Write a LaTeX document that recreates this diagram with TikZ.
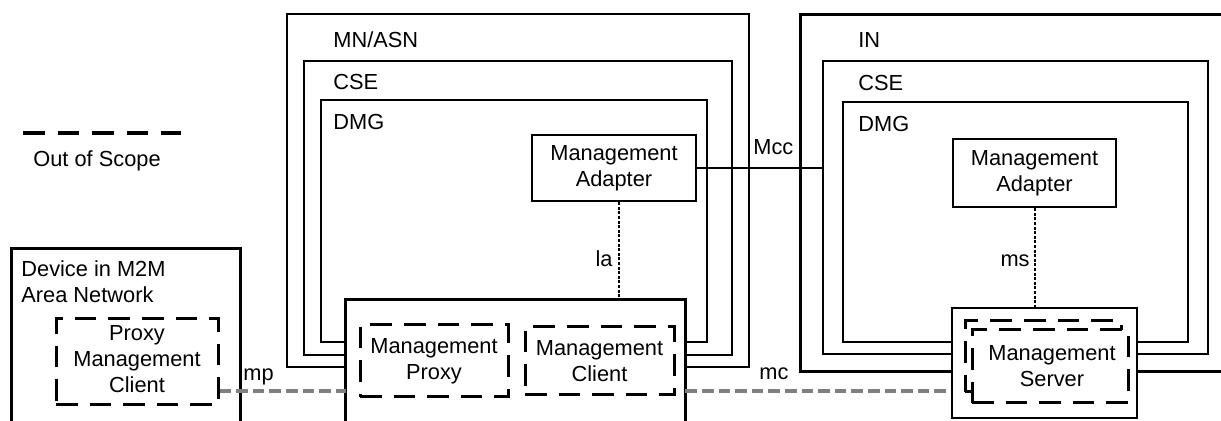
\documentclass[tikz,border=0pt]{standalone}
\usepackage{fontspec}
\setmainfont{Liberation Sans}
\usetikzlibrary{fit}
\begin{document}
\begin{tikzpicture}[x=0.5pt,y=-0.5pt,
  every node/.style={font=\fontsize{10.9}{13}\selectfont},
  box/.style={draw, line width=1.25pt, inner sep=0pt},
  wbox/.style={fill=white, inner sep=0pt},
  edge3/.style={line width=1.25pt},
  oos/.style={draw, line width=1.5pt, dash pattern=on 10.8pt off 6pt, inner sep=0pt},
  ctext/.style={align=center, inner sep=0pt},
  lbl/.style={anchor=base west, inner sep=0pt},
  gline/.style={draw=black!50, line width=1.8pt, dash pattern=on 5.8pt off 2.5pt},
  dline/.style={line width=1pt, dash pattern=on 1.5pt off 0.8pt},
  legline/.style={line width=1.75pt, dash pattern=on 10.85pt off 6.4pt}]
\useasboundingbox (0,0) rectangle (1221,421);

% legend
\draw[legline] (23,133) -- (181,133);
\node[lbl] (oostext) at (33,167) {Out of Scope};

% device in M2M area network
\node[inner sep=0pt, fit={(12,249) (240,421)}] (dev) {};
\draw[edge3] (dev.south west) -- (dev.north west) -- (dev.north east) -- (dev.south east);
\node[lbl, align=left] (devtext) at (21,303) {Device in M2M\\Area Network};
\node[oos, fit={(56,319) (218,405)}] (pmc) {};
\node[ctext] (pmct) at ([yshift=1.5pt]pmc.center) {Proxy\\Management\\Client};

% MN/ASN side
\node[box, fit={(287,14) (749,367)}] (mnasn) {};
\node[box, fit={(304,61) (732,355)}] (cseL) {};
\node[box, fit={(321,100) (707,342)}] (dmgL) {};
\node[lbl] (mnasnt) at (333,48) {MN/ASN};
\node[lbl] (cseLt) at (333,90) {CSE};
\node[lbl] (dmgLt) at (333,130) {DMG};
\node[box, fit={(532,135) (696,201)}] (maL) {};
\node[ctext] (maLt) at (maL.center) {Management\\Adapter};

% IN side
\node[inner sep=0pt, fit={(801,15) (1221,371)}] (inO) {};
\draw[edge3] (inO.north east) -- (inO.north west) -- (inO.south west) -- (inO.south east);
\node[box, fit={(823,61) (1208,354)}] (cseR) {};
\node[box, fit={(843,102) (1188,342)}] (dmgR) {};
\node[lbl] (inOt) at (858,48) {IN};
\node[lbl] (cseRt) at (858,91) {CSE};
\node[lbl] (dmgRt) at (858,132) {DMG};
\node[box, fit={(953,139) (1116,207)}] (maR) {};
\node[ctext] (maRt) at (maR.center) {Management\\Adapter};

% Mcc
\draw[line width=1pt] (maL.east) -- (maL.east -| cseR.west);
\node[lbl] (mcc) at (753,155) {Mcc};

% proxy box
\node[wbox, fit={(346,300) (685,421)}] (proxy) {};
\draw[edge3] (proxy.south west) -- (proxy.north west) -- (proxy.north east) -- (proxy.south east);
\node[oos, fit={(360,325) (508,397)}] (mprox) {};
\node[ctext] (mproxt) at (mprox.center) {Management\\Proxy};
\node[oos, fit={(525,327) (674,395)}] (mcli) {};
\node[ctext] (mclit) at (mcli.center) {Management\\Client};

% server box
\node[box, fill=white, fit={(952,308) (1137,418)}] (server) {};
\node[oos, fit={(965,321) (1121,392)}] (srvA) {};
\node[oos, fill=white, fit={(972,330) (1128,403)}] (srvB) {};
\node[ctext] (srvt) at ([xshift=1pt]srvB.center) {Management\\Server};

% reference points
\draw[dline] ([xshift=2.5pt]maL.south) -- ([xshift=2.5pt]maL.south |- proxy.north);
\node[lbl, anchor=base east] (la) at (613,267) {la};
\draw[dline] (maR.south) -- (maR.south |- server.north);
\node[lbl, anchor=base east] (ms) at (1030,267) {ms};

\path ([yshift=-14.5pt]pmc.east) coordinate (mpa);
\draw[gline] (mpa) -- (mpa -| proxy.west);
\node[lbl] (mp) at (243,381) {mp};
\draw[gline] (mpa -| proxy.east) -- (mpa -| server.west);
\node[lbl] (mc) at (759,380) {mc};
\end{tikzpicture}
\end{document}
